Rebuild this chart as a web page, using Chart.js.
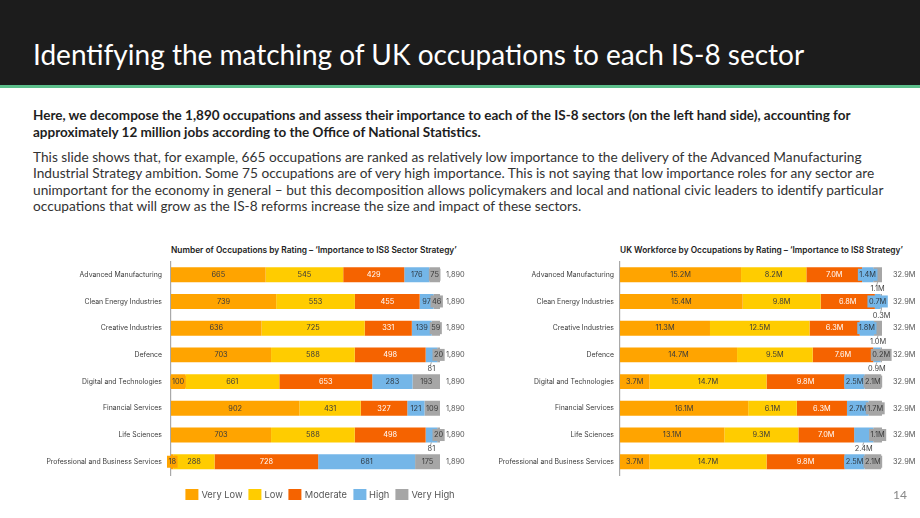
<!DOCTYPE html>
<html>
<head>
<meta charset="utf-8">
<script src="https://cdn.jsdelivr.net/npm/chart.js@4/dist/chart.umd.min.js"></script>
<style>
  html, body { margin: 0; padding: 0; }
  body { width: 920px; height: 518px; position: relative; overflow: hidden; background: #fff; font-family: Lato, "Open Sans", sans-serif; }
  .header { position: absolute; left: 0; top: 0; width: 920px; height: 85px; background: #1c1c1c; border-bottom: 3px solid #5cbf8b; }
  .header h1 { position: absolute; left: 33px; top: 37px; margin: 0; color: #fff; font-size: 28px; font-weight: 400; white-space: nowrap; }
  .intro { position: absolute; left: 33px; top: 107px; margin: 0; font-size: 13.5px; line-height: 17px; color: #1e1e1e; font-weight: 700; white-space: nowrap; }
  .body { position: absolute; left: 33px; top: 149px; margin: 0; font-size: 13.7px; line-height: 16.4px; color: #333; white-space: nowrap; }
  .ctitle { position: absolute; top: 245px; font-family: Inter, sans-serif; font-size: 8.35px; font-weight: 600; color: #222; white-space: nowrap; }
  canvas { position: absolute; }
  #legend { position: absolute; left: 320px; top: 489px; transform: translateX(-50%); display: flex; gap: 6px; font-family: Inter, sans-serif; font-size: 9.3px; color: #555; white-space: nowrap; }
  #legend span { display: flex; align-items: center; gap: 3px; }
  #legend i { display: inline-block; width: 13px; height: 11px; }
  .page { position: absolute; left: 893px; top: 487px; font-size: 12px; color: #888; }
</style>
</head>
<body>
<div class="header"><h1>Identifying the matching of UK occupations to each IS-8 sector</h1></div>
<p class="intro">Here, we decompose the 1,890 occupations and assess their importance to each of the IS-8 sectors (on the left hand side), accounting for<br>approximately 12 million jobs according to the Office of National Statistics.</p>
<p class="body">This slide shows that, for example, 665 occupations are ranked as relatively low importance to the delivery of the Advanced Manufacturing<br>Industrial Strategy ambition. Some 75 occupations are of very high importance. This is not saying that low importance roles for any sector are<br>unimportant for the economy in general – but this decomposition allows policymakers and local and national civic leaders to identify particular<br>occupations that will grow as the IS-8 reforms increase the size and impact of these sectors.</p>

<div class="ctitle" style="left:171px">Number of Occupations by Rating – ‘Importance to IS8 Sector Strategy’</div>
<div class="ctitle" style="left:620px">UK Workforce by Occupations by Rating – ‘Importance to IS8 Strategy’</div>
<canvas id="occ-canvas" width="430" height="250" style="left:40px; top:240px; width:430px; height:250px"></canvas>
<canvas id="work-canvas" width="430" height="250" style="left:490px; top:240px; width:430px; height:250px"></canvas>
<div id="legend"></div>
<div class="page">14</div>

<script>
// Sectors (rows) and rating bands (stacked segments)
const sectors = [
    'Advanced Manufacturing', 'Clean Energy Industries', 'Creative Industries', 'Defence',
    'Digital and Technologies', 'Financial Services', 'Life Sciences', 'Professional and Business Services'
];
const ratings = ['Very Low', 'Low', 'Moderate', 'High', 'Very High'];
const ratingColors = ['#ffa400', '#ffcc00', '#f56300', '#74b6e8', '#a6a6a6'];
const ratingTextColors = ['#3a3a3a', '#3a3a3a', '#ffffff', '#2f3a44', '#3a3a3a'];

// Number of occupations by rating
const occVeryLow = [665, 739, 636, 703, 100, 902, 703, 18];
const occLow = [545, 553, 725, 588, 661, 431, 588, 288];
const occModerate = [429, 455, 331, 498, 653, 327, 498, 728];
const occHigh = [176, 97, 139, 81, 283, 121, 81, 681];
const occVeryHigh = [75, 46, 59, 20, 193, 109, 20, 175];
const occTotals = [1890, 1890, 1890, 1890, 1890, 1890, 1890, 1890];

// UK workforce (millions) by rating
const workVeryLow = [15.2, 15.4, 11.3, 14.7, 3.7, 16.1, 13.1, 3.7];
const workLow = [8.2, 9.8, 12.5, 9.5, 14.7, 6.1, 9.3, 14.7];
const workModerate = [7.0, 6.8, 6.3, 7.6, 9.8, 6.3, 7.0, 9.8];
const workHigh = [1.4, 0.7, 1.8, 0.9, 2.5, 2.7, 2.4, 2.5];
const workVeryHigh = [1.1, 0.3, 1.0, 0.2, 2.1, 1.7, 1.1, 2.1];
const workTotals = [32.9, 32.9, 32.9, 32.9, 32.9, 32.9, 32.9, 32.9];

// Which rating's label is called out underneath the bar (index into ratings), per sector
const occCallouts = [null, null, null, 3, null, null, 3, null];
const workCallouts = [4, 4, 4, 3, null, null, 3, null];

const CHART_FONT = 'Inter, sans-serif';

// Draws value labels in each segment, callouts under the bar and row totals
const segmentLabels = {
    id: 'segmentLabels',
    afterDatasetsDraw(chart, args, opts) {
        const ctx = chart.ctx;
        ctx.save();
        ctx.font = `${opts.size}px ${CHART_FONT}`;
        ctx.textAlign = 'center';
        ctx.textBaseline = 'middle';

        chart.data.datasets.forEach((ds, di) => {
            const meta = chart.getDatasetMeta(di);
            meta.data.forEach((bar, i) => {
                const p = bar.getProps(['x', 'y', 'base', 'height'], true);
                const text = opts.format(ds.data[i]);
                const w = ctx.measureText(text).width;
                const cx = (p.x + p.base) / 2;
                const bottom = p.y + p.height / 2;

                if (opts.callouts[i] === di) {
                    ctx.strokeStyle = '#8a8a8a';
                    ctx.lineWidth = 0.8;
                    ctx.beginPath();
                    ctx.moveTo(cx, bottom);
                    ctx.lineTo(cx - 1, bottom + 3);
                    ctx.stroke();
                    ctx.fillStyle = '#444';
                    ctx.fillText(text, cx, bottom + 6.5);
                    return;
                }
                if (w + 3 > Math.abs(p.x - p.base)) {
                    ctx.fillStyle = ds.backgroundColor;
                    ctx.fillRect(cx - w / 2 - 1.5, p.y - 6, w + 3, 12);
                }
                ctx.fillStyle = ds.labelColor;
                ctx.fillText(text, cx, p.y);
            });
        });

        // totals to the right of each bar
        const lastMeta = chart.getDatasetMeta(chart.data.datasets.length - 1);
        ctx.textAlign = 'left';
        ctx.fillStyle = '#555';
        lastMeta.data.forEach((bar, i) => {
            ctx.fillText(opts.formatTotal(opts.totals[i]), chart.chartArea.right + opts.totalGap, bar.y);
        });
        ctx.restore();
    }
};

function buildStackedChart(canvasId, series, totals, callouts, format, formatTotal, layout) {
    const ctx = document.getElementById(canvasId);
    const datasets = series.map((values, k) => ({
        label: ratings[k],
        data: values,
        backgroundColor: ratingColors[k],
        labelColor: ratingTextColors[k],
        borderWidth: 0,
        barPercentage: 0.56,
        categoryPercentage: 1.0
    }));

    return new Chart(ctx, {
        type: 'bar',
        data: { labels: sectors, datasets },
        options: {
            indexAxis: 'y',
            responsive: false,
            animation: false,
            layout: { padding: { top: 21.4, bottom: 14.9, right: layout.padRight, left: 0 } },
            plugins: {
                legend: { display: false },
                tooltip: { enabled: false },
                segmentLabels: {
                    size: 7.4,
                    format,
                    formatTotal,
                    totals,
                    callouts,
                    totalGap: layout.totalGap
                }
            },
            scales: {
                x: {
                    stacked: true,
                    display: false,
                    min: 0,
                    max: Math.max(...totals)
                },
                y: {
                    stacked: true,
                    afterFit: (scale) => { scale.width = layout.axisWidth; },
                    grid: { display: false, drawTicks: false },
                    border: { display: true, color: '#a9a9a9', width: 1.2 },
                    ticks: {
                        padding: layout.tickPad,
                        color: '#3c3c3c',
                        font: { family: CHART_FONT, size: 6.9 }
                    }
                }
            }
        },
        plugins: [segmentLabels]
    });
}

buildStackedChart('occ-canvas',
    [occVeryLow, occLow, occModerate, occHigh, occVeryHigh],
    occTotals, occCallouts,
    (v) => String(v),
    (v) => v.toLocaleString('en-US'),
    { axisWidth: 131, padRight: 30, tickPad: 9, totalGap: 6 });

buildStackedChart('work-canvas',
    [workVeryLow, workLow, workModerate, workHigh, workVeryHigh],
    workTotals, workCallouts,
    (v) => v.toFixed(1) + 'M',
    (v) => v.toFixed(1) + 'M',
    { axisWidth: 130, padRight: 38, tickPad: 6, totalGap: 11 });

// HTML legend under the left chart
const legend = document.getElementById('legend');
ratings.forEach((r, k) => {
    const item = document.createElement('span');
    item.innerHTML = `<i style="background:${ratingColors[k]}"></i>${r}`;
    legend.appendChild(item);
});
</script>
</body>
</html>
